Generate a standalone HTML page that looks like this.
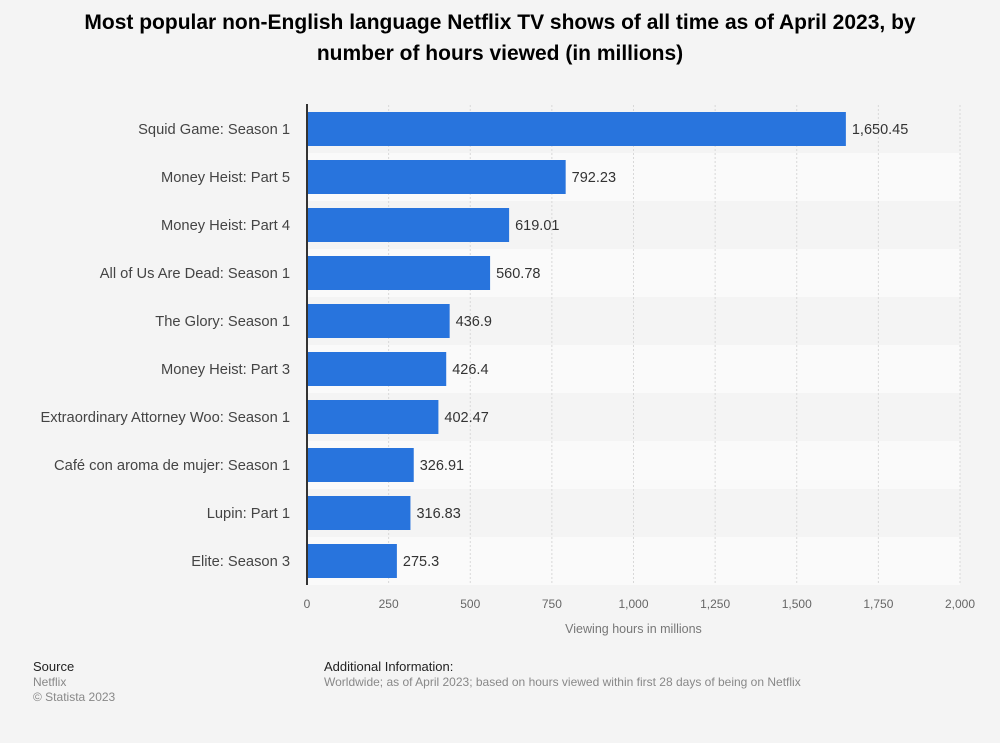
<!DOCTYPE html>
<html><head><meta charset="utf-8">
<style>
body{margin:0;background:#f4f4f4;font-family:"Liberation Sans",sans-serif;}
#wrap{position:relative;width:1000px;height:743px;}
h1{position:absolute;left:0;top:7px;width:1000px;margin:0;text-align:center;font-size:21px;line-height:31px;font-weight:bold;color:#000;}
.ft{position:absolute;font-size:12px;color:#888;line-height:15px;}
.ft b{font-weight:normal;color:#222;font-size:13px;}
</style></head><body>
<div id="wrap">
<h1>Most popular non-English language Netflix TV shows of all time as of April 2023, by<br>number of hours viewed (in millions)</h1>
<svg id="chart" width="1000" height="743" style="position:absolute;left:0;top:0"></svg>
<div class="ft" style="left:33px;top:659px"><b>Source</b><br>Netflix<br>© Statista 2023</div>
<div class="ft" style="left:324px;top:659px"><b>Additional Information:</b><br>Worldwide; as of April 2023; based on hours viewed within first 28 days of being on Netflix</div>
</div>
<script>
const categories=["Squid Game: Season 1","Money Heist: Part 5","Money Heist: Part 4","All of Us Are Dead: Season 1","The Glory: Season 1","Money Heist: Part 3","Extraordinary Attorney Woo: Season 1","Café con aroma de mujer: Season 1","Lupin: Part 1","Elite: Season 3"];
const values=[1650.45,792.23,619.01,560.78,436.9,426.4,402.47,326.91,316.83,275.3];
const labels=["1,650.45","792.23","619.01","560.78","436.9","426.4","402.47","326.91","316.83","275.3"];
const ticks=[0,250,500,750,1000,1250,1500,1750,2000];
const tickLabels=["0","250","500","750","1,000","1,250","1,500","1,750","2,000"];
const NS="http://www.w3.org/2000/svg";
const svg=document.getElementById('chart');
const x0=307,x1=960,top0=105,rowH=48,barH=34,xMax=2000;
const xs=v=>x0+(v/xMax)*(x1-x0);
const ys=i=>top0+i*rowH;
function mk(t,a){const e=document.createElementNS(NS,t);for(const k in a)e.setAttribute(k,a[k]);svg.appendChild(e);return e;}
categories.forEach((c,i)=>{
  const r=mk('rect',{x:x0,y:ys(i),width:x1-x0,height:rowH,fill:i%2?'#fafafa':'#f4f4f4'});
  
  
});
ticks.forEach((t,i)=>{
  if(i>0){const g=mk('line',{x1:xs(t),x2:xs(t),y1:top0,y2:top0+rowH*categories.length,stroke:'#d8d8d8','stroke-dasharray':'2,2'});
  
  }
  const tl=mk('text',{x:xs(t),y:608,'text-anchor':'middle','font-size':12,fill:'#666'});
  tl.textContent=tickLabels[i];
  
  
});
categories.forEach((c,i)=>{
  const cy=ys(i)+rowH/2;
  const b=mk('rect',{x:x0,y:cy-barH/2,width:xs(values[i])-x0,height:barH,fill:'#2874dd'});
  
  
  const l=mk('text',{x:290,y:cy+5,'text-anchor':'end','font-size':14.7,fill:'#444'});
  l.textContent=c;
  
  
  const v=mk('text',{x:xs(values[i])+6,y:cy+5,'font-size':14.5,fill:'#333'});
  v.textContent=labels[i];
  
  
});
const ax=mk('line',{x1:x0,x2:x0,y1:top0-1,y2:top0+rowH*categories.length,stroke:'#333','stroke-width':2});


const xt=mk('text',{x:(x0+x1)/2,y:633,'text-anchor':'middle','font-size':12.5,fill:'#777'});
xt.textContent='Viewing hours in millions';


</script>
</body></html>
